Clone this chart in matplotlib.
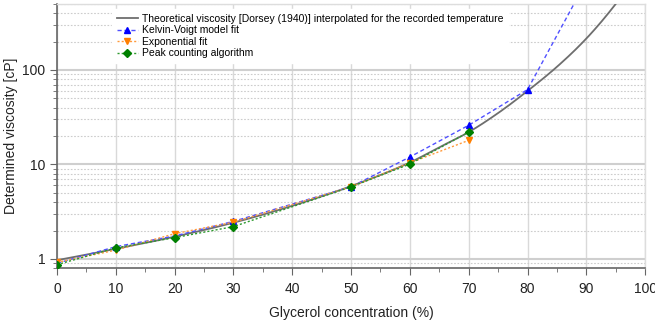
import matplotlib
matplotlib.use("Agg")
import matplotlib.pyplot as plt
from matplotlib.ticker import FixedLocator, NullFormatter, MultipleLocator
import numpy as np

plt.rcParams['font.family'] = ['Liberation Sans', 'DejaVu Sans']

# Theoretical viscosity (Dorsey 1940) interpolated
theo_x = [0, 10, 20, 30, 40, 50, 60, 65, 70, 75, 80, 85, 90, 95]
theo_y = [0.97, 1.28, 1.72, 2.42, 3.65, 5.9, 10.5, 15.2, 22.0, 35.0, 60.0, 108, 215, 500]

conc = [0, 10, 20, 30, 50, 60, 70]
kv_x = [0, 10, 20, 30, 50, 60, 70, 80, 90]
kv_y = [0.90, 1.35, 1.75, 2.5, 5.8, 12.0, 26.0, 62.0, 870]
exp_y = [0.92, 1.24, 1.85, 2.45, 5.8, 10.4, 18.0]
peak_y = [0.87, 1.31, 1.68, 2.2, 5.8, 10.1, 22.0]

labels = ["Theoretical viscosity [Dorsey (1940)] interpolated for the recorded temperature",
          "Kelvin-Voigt model fit", "Exponential fit", "Peak counting algorithm"]

fig = plt.figure(figsize=(6.55, 3.25), dpi=100)
ax = fig.add_axes([0.087, 0.175, 0.898, 0.813])

# smooth theoretical curve in log space
xs = np.linspace(theo_x[0], theo_x[-1], 400)
ys = 10 ** np.interp(xs, theo_x, np.log10(theo_y))
try:
    from scipy.interpolate import PchipInterpolator
    ys = 10 ** PchipInterpolator(theo_x, np.log10(theo_y))(xs)
except Exception:
    pass

ax.plot(xs, ys, color='#6e6e6e', lw=1.3, label=labels[0], zorder=3)
ax.plot(kv_x, kv_y, color='#5050ff', ls=(0, (3, 2)), lw=1.0, marker='^', ms=5,
        mfc='#0000ff', mec='#0000ff', label=labels[1], zorder=4)
ax.plot(conc, exp_y, color='#ff9a3c', ls=(0, (1.5, 1.5)), lw=1.0, marker='v', ms=5,
        mfc='#ff7f00', mec='#ff7f00', label=labels[2], zorder=4)
ax.plot(conc, peak_y, color='#2e9a2e', ls=(0, (1.5, 1.5)), lw=1.0, marker='D', ms=4,
        mfc='#008000', mec='#008000', label=labels[3], zorder=5)

ax.set_yscale('log')
ax.set_xlim(0, 100)
ax.set_ylim(0.8, 500)
ax.xaxis.set_major_locator(MultipleLocator(10))
ax.xaxis.set_minor_locator(MultipleLocator(5))
ax.yaxis.set_major_locator(FixedLocator([1, 10, 100]))
ax.set_yticklabels(['1', '10', '100'])
minors = [m * d for d in [0.1, 1, 10, 100] for m in range(2, 10) if 0.8 <= m * d <= 500]
ax.yaxis.set_minor_locator(FixedLocator(minors))
ax.yaxis.set_minor_formatter(NullFormatter())

ax.grid(True, which='major', axis='x', color='#d9d9d9', lw=1.0)
ax.grid(True, which='major', axis='y', color='#cfcfcf', lw=1.5)
ax.grid(True, which='minor', axis='y', color='#cccccc', lw=0.8, ls=(0, (1.5, 1.5)))
ax.set_axisbelow(True)

for s in ['left', 'bottom']:
    ax.spines[s].set_color('#666666')
    ax.spines[s].set_linewidth(1.2)
for s in ['top', 'right']:
    ax.spines[s].set_color('#dddddd')
    ax.spines[s].set_linewidth(1.0)

ax.tick_params(which='major', direction='out', length=5, color='#666666', labelsize=10,
               labelcolor='#222222')
ax.tick_params(which='minor', direction='out', length=3, color='#666666')
ax.tick_params(axis='x', pad=5)

ax.set_xlabel('Glycerol concentration (%)', fontsize=10, color='#222222', labelpad=7)
ax.set_ylabel('Determined viscosity [cP]', fontsize=10, color='#222222')
ax.yaxis.set_label_coords(-0.066, 0.5)

leg = ax.legend(loc='upper left', bbox_to_anchor=(0.085, 1.0), frameon=True, fontsize=7.5,
                handlelength=2.0, borderpad=0.45, labelspacing=0.15, handletextpad=0.4,
                fancybox=False)
leg.get_frame().set_edgecolor('white')
leg.get_frame().set_facecolor('white')
leg.get_frame().set_alpha(1.0)
leg.set_zorder(2)

fig.savefig('out.png', dpi=100)
